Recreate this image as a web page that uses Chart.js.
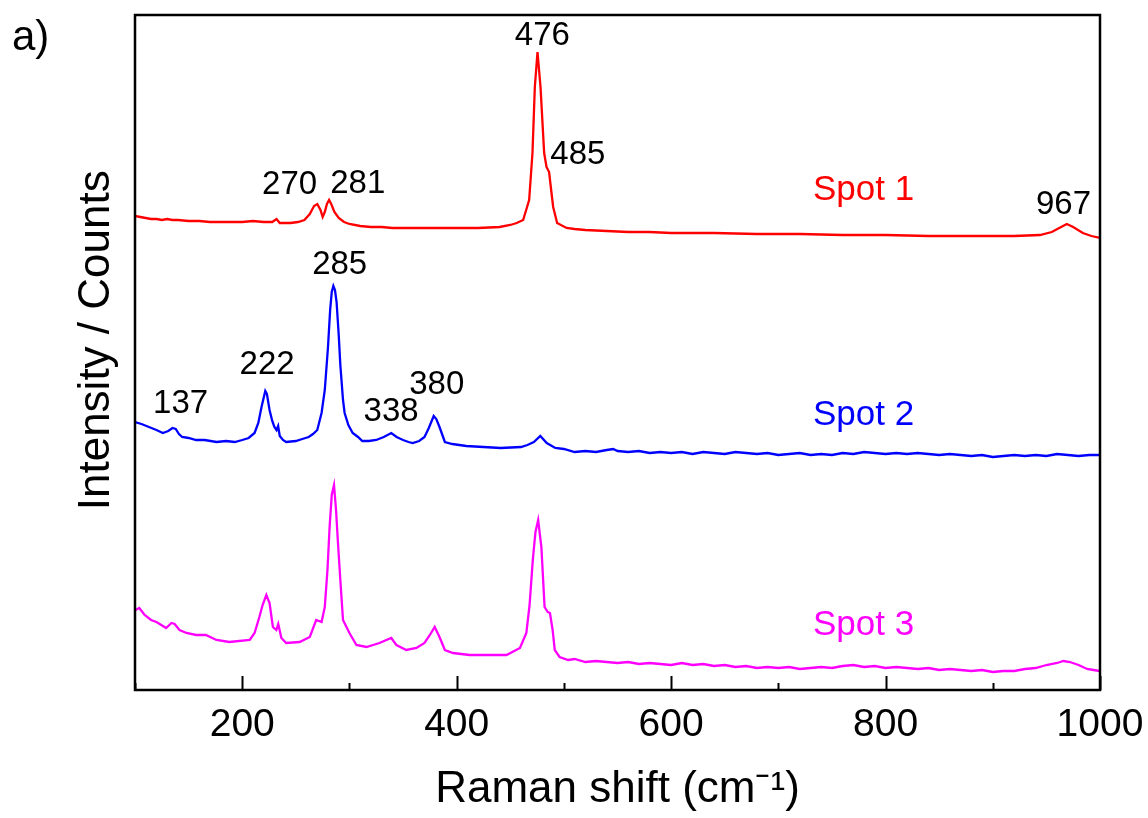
<!DOCTYPE html>
<html>
<head>
<meta charset="utf-8">
<script src="https://cdn.jsdelivr.net/npm/chart.js@4"></script>
<style>
  html, body { margin: 0; padding: 0; background: #fff; }
  canvas { display: block; }
</style>
</head>
<body>
<canvas id="myChart" width="1148" height="818"></canvas>
<script>
//--------------------------------------------------
// spectra (arbitrary counts, stacked with offsets)
const spot1Shift = [100, 105, 110, 115, 120, 125, 130, 135, 140, 150, 160, 170, 180, 190, 200, 210, 220, 228, 232, 235, 245, 252, 258, 263, 267, 270, 273, 275, 277, 279, 281, 283, 286, 290, 295, 300, 310, 320, 330, 340, 350, 360, 380, 400, 420, 440, 450, 456, 462, 467.6, 470.7, 472.9, 475.4, 478.2, 481.6, 483.8, 486.2, 487.8, 490, 493.7, 502.5, 510, 520, 540, 560, 580, 600, 640, 680, 720, 760, 800, 840, 880, 920, 944, 955, 962, 969, 975, 984, 992, 1000];
const spot1Counts = [474, 473, 472, 471, 471, 470, 471, 470, 470, 469, 469, 468, 468, 468, 468, 469, 468, 468, 471, 467, 467, 468, 470, 476, 484, 486, 480, 473, 478, 486, 490, 486, 478, 472, 468, 466, 464, 463, 463, 462, 462, 462, 462, 462, 462, 463, 465, 467, 470, 490, 537, 603, 638, 603, 537, 523, 518, 503, 483, 467, 462, 461, 460, 459, 458, 458, 457, 457, 456, 456, 455, 455, 454, 454, 454, 455, 458, 462, 466, 463, 457, 454, 452];

const spot2Shift = [100, 106, 113, 120, 126, 131, 135, 138, 141, 144, 150, 157, 165, 176, 185, 193, 200, 206, 211.5, 215, 218, 221.5, 223, 225.5, 228, 230, 232, 233.5, 235, 238, 241, 250, 256, 262, 266, 270, 274, 277, 280, 282, 283.5, 285, 286.5, 288, 290, 291.5, 294, 295.5, 299, 303, 308, 312, 318, 325, 332, 339, 344, 350, 355, 359, 365, 370, 374, 378.6, 381, 384, 389, 396, 409, 425, 441, 460, 466, 472, 478, 484, 492, 500, 510, 520, 530, 540, 546, 550, 560, 570, 580, 590, 600, 610, 620, 630, 640, 650, 660, 670, 680, 690, 700, 710, 720, 730, 740, 750, 760, 770, 780, 790, 800, 810, 820, 830, 840, 850, 860, 870, 880, 890, 900, 910, 920, 930, 940, 950, 960, 970, 980, 990, 1000];
const spot2Counts = [268, 266, 263, 260, 257, 259, 262, 261, 256, 253, 252, 250, 250, 248, 249, 248, 250, 252, 257, 267, 283, 299, 296, 280, 269, 263, 260, 264, 254, 250, 248, 249, 251, 253, 256, 260, 277, 300, 343, 380, 398, 404, 400, 388, 355, 325, 290, 277, 265, 257, 253, 249, 249, 250, 253, 257, 253, 250, 248, 247, 249, 253, 262, 274, 271, 263, 248, 246, 244, 243, 242, 243, 245, 248, 254, 247, 242, 241, 238, 239, 238, 240, 241, 239, 238, 239, 237, 238, 237, 238, 236, 238, 237, 236, 238, 237, 236, 237, 235, 236, 237, 235, 236, 235, 237, 236, 238, 237, 236, 237, 236, 237, 236, 235, 236, 235, 234, 235, 233, 234, 235, 234, 235, 234, 236, 235, 234, 235, 235];

const spot3Shift = [100.5, 104, 109, 115, 120, 124.5, 129, 134, 137, 141.5, 148, 157, 166, 176, 188, 207, 211.5, 216, 219, 222.5, 225.5, 228.6, 231.8, 233.6, 236.5, 241, 253.5, 263, 269, 274, 277, 279.5, 281.5, 283.5, 285.6, 287.5, 289.3, 291.5, 294, 300, 306.5, 315.8, 328, 339, 343.8, 353, 362.5, 370, 375, 379.5, 384, 389, 396.6, 412, 427.8, 446.5, 459, 465, 468, 471, 473.5, 476, 479, 482, 485, 487, 489.5, 491.5, 496, 504, 510, 520, 530, 540, 550, 560, 570, 580, 590, 600, 610, 620, 630, 640, 650, 660, 670, 680, 690, 700, 710, 720, 730, 740, 750, 760, 770, 780, 790, 800, 810, 820, 830, 840, 850, 860, 870, 880, 890, 900, 910, 920, 930, 940, 950, 960, 966, 972, 980, 988, 994, 1000];
const spot3Counts = [80, 82, 75, 70, 68, 65, 62, 67, 66, 60, 57, 55, 55, 50, 48, 50, 57, 73, 85, 95, 87, 63, 60, 66, 52, 47, 48, 53, 70, 68, 83, 120, 163, 195, 205, 180, 147, 110, 70, 57, 45, 43, 47, 52, 45, 40, 42, 47, 55, 63, 53, 40, 37, 35, 35, 35, 42, 57, 85, 130, 158, 170, 143, 83, 78, 77, 60, 40, 33, 30, 31, 28, 29, 28, 27, 28, 26, 27, 26, 25, 27, 25, 26, 24, 25, 23, 24, 22, 23, 22, 23, 21, 22, 23, 22, 24, 25, 23, 24, 22, 23, 22, 21, 22, 20, 21, 20, 19, 20, 18, 19, 19, 21, 22, 25, 27, 29, 28, 25, 21, 20, 19];

// axis ticks
const majorTicks = [200, 400, 600, 800, 1000];
const minorTicks = [100, 300, 500, 700, 900];

// peak annotations (label centre, in data units)
const peakText = ["476", "485", "270", "281", "285", "222", "137", "338", "380", "967"];
const peakShift = [479.9, 513, 244.2, 307.7, 290.9, 223.2, 142.5, 338.9, 381.4, 966];
const peakLevel = [654.5, 535, 505, 506, 425, 325, 286, 278, 305, 485];

const spotNames = ["Spot 1", "Spot 2", "Spot 3"];
const spotLevel = [500, 275, 65];
const spotColors = ["#ff0000", "#0000ff", "#ff00ff"];
//--------------------------------------------------

const FONT = "Arial, 'Liberation Sans', Helvetica, sans-serif";

function toPoints(xs, ys) {
  return xs.map((x, i) => ({ x: x, y: ys[i] }));
}

const annotate = {
  id: "annotate",
  afterDatasetsDraw(chart) {
    const { ctx, chartArea, scales } = chart;
    const x = scales.x, y = scales.y;
    ctx.save();
    // frame
    ctx.strokeStyle = "#000";
    ctx.lineWidth = 2.5;
    ctx.strokeRect(chartArea.left, chartArea.top, chartArea.right - chartArea.left, chartArea.bottom - chartArea.top);
    // inward ticks
    ctx.lineWidth = 2;
    ctx.beginPath();
    majorTicks.forEach(v => {
      const px = Math.round(x.getPixelForValue(v)) + 0.5;
      ctx.moveTo(px, chartArea.bottom);
      ctx.lineTo(px, chartArea.bottom - 14);
    });
    minorTicks.forEach(v => {
      const px = Math.round(x.getPixelForValue(v)) + 0.5;
      ctx.moveTo(px, chartArea.bottom);
      ctx.lineTo(px, chartArea.bottom - 7);
    });
    ctx.stroke();
    // peak labels
    ctx.fillStyle = "#000";
    ctx.font = "33px " + FONT;
    ctx.textAlign = "center";
    ctx.textBaseline = "middle";
    peakText.forEach((t, i) => {
      ctx.fillText(t, x.getPixelForValue(peakShift[i]), y.getPixelForValue(peakLevel[i]));
    });
    // spot labels
    ctx.font = "35px " + FONT;
    ctx.textAlign = "left";
    spotNames.forEach((t, i) => {
      ctx.fillStyle = spotColors[i];
      ctx.fillText(t, x.getPixelForValue(732.3), y.getPixelForValue(spotLevel[i]));
    });
    // panel letter
    ctx.fillStyle = "#000";
    ctx.font = "42px " + FONT;
    ctx.textBaseline = "alphabetic";
    ctx.fillText("a)", 12, 50);
    ctx.restore();
  }
};

const ctx = document.getElementById("myChart");
new Chart(ctx, {
  type: "line",
  data: {
    datasets: [
      { label: spotNames[0], data: toPoints(spot1Shift, spot1Counts), borderColor: spotColors[0] },
      { label: spotNames[1], data: toPoints(spot2Shift, spot2Counts), borderColor: spotColors[1] },
      { label: spotNames[2], data: toPoints(spot3Shift, spot3Counts), borderColor: spotColors[2] },
    ],
  },
  options: {
    responsive: false,
    animation: false,
    devicePixelRatio: 1,
    layout: { padding: { left: 0, right: 48, top: 15, bottom: 0 } },
    elements: {
      point: { radius: 0 },
      line: { borderWidth: 2.3, tension: 0 },
    },
    plugins: {
      legend: { display: false },
      tooltip: { enabled: false },
    },
    scales: {
      x: {
        type: "linear",
        min: 100,
        max: 1000,
        grid: { display: false, drawTicks: false },
        border: { display: false },
        afterBuildTicks: s => { s.ticks = majorTicks.map(v => ({ value: v })); },
        afterFit: s => { s.height = 128; s.paddingRight = 0; s.paddingLeft = 0; },
        ticks: {
          color: "#000",
          padding: 12,
          maxRotation: 0,
          font: { family: FONT, size: 39 },
          callback: v => String(v),
        },
        title: {
          display: true,
          text: "Raman shift (cm\u207B\u00B9)",
          color: "#000",
          font: { family: FONT, size: 44 },
          padding: { top: 0, bottom: 2 },
        },
      },
      y: {
        min: 0,
        max: 675,
        grid: { display: false, drawTicks: false },
        border: { display: false },
        ticks: { display: false },
        afterFit: s => { s.width = 135; },
        title: {
          display: true,
          text: "  Intensity / Counts",
          color: "#000",
          font: { family: FONT, size: 44 },
          padding: { top: 70, bottom: 0 },
        },
      },
    },
  },
  plugins: [annotate],
});
</script>
</body>
</html>
